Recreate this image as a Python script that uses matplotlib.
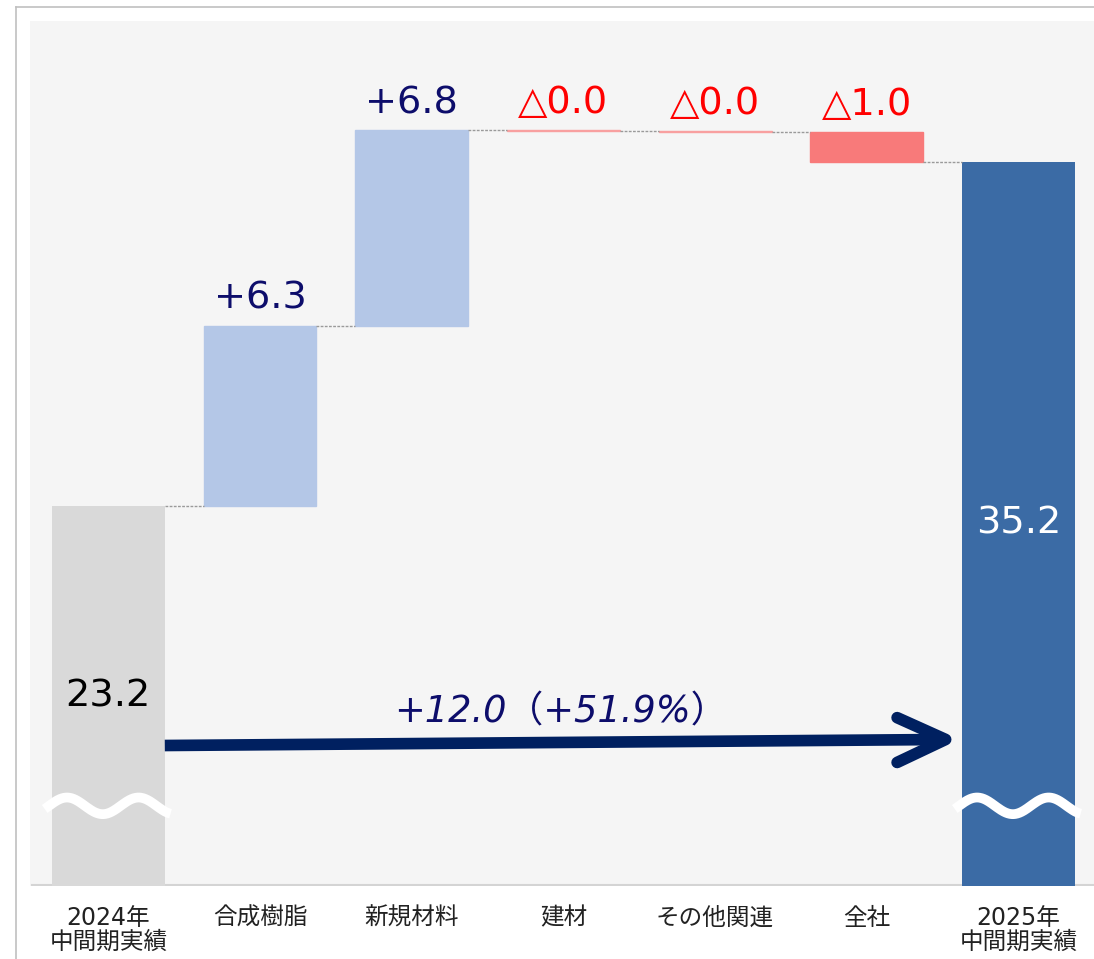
import numpy as np
import matplotlib
matplotlib.use("Agg")
import matplotlib.pyplot as plt
from matplotlib.lines import Line2D

plt.rcParams['font.family'] = ['DejaVu Sans', 'Noto Sans CJK JP']

# ---- data ----
categories = ["2024年\n中間期実績", "合成樹脂", "新規材料", "建材", "その他関連", "全社", "2025年\n中間期実績"]
start_value = 23.2
deltas = [6.3, 6.8, -0.02, -0.04, -1.04]
end_value = 35.2
delta_labels = ["+6.3", "+6.8", "△0.0", "△0.0", "△1.0"]
start_label = "23.2"
end_label = "35.2"
change_label = "+12.0（+51.9%）"
axis_floor = 10.0
axis_top = 40.1

# ---- colors ----
c_start = "#d9d9d9"
c_up = "#b4c7e7"
c_down = "#f87a7a"
c_end = "#3b6ba5"
c_navy = "#0d0d6b"
c_red = "#ff0000"
c_arrow = "#002060"

W, H = 1094, 959
fig = plt.figure(figsize=(W / 100, H / 100), dpi=100)
fig.patch.set_facecolor("white")

# outer frame lines
fx0, fy0 = 15.8 / W, 1 - 7.3 / H
fig.add_artist(Line2D([fx0, 1.0], [fy0, fy0], transform=fig.transFigure, color="#c0c0c0", lw=1.2))
fig.add_artist(Line2D([fx0, fx0], [0, fy0], transform=fig.transFigure, color="#c0c0c0", lw=1.2))

ax_left = 29.8 / W
ax_bottom = 1 - 885.7 / H
ax_top = 1 - 21 / H
ax = fig.add_axes([ax_left, ax_bottom, 1 - ax_left, ax_top - ax_bottom])
ax.set_facecolor("#f5f5f5")
for s in ax.spines.values():
    s.set_visible(False)
ax.set_xticks([])
ax.set_yticks([])
ax.set_xlim(-0.518, 6.498)
ax.set_ylim(axis_floor, axis_top)

bw = 0.744
n = len(categories)
x = np.arange(n)

# cumulative levels
levels = [start_value]
for d in deltas:
    levels.append(levels[-1] + d)

# start bar
ax.bar(0, start_value, width=bw, color=c_start, zorder=2)
# delta bars
for i, d in enumerate(deltas):
    lo = min(levels[i], levels[i + 1])
    hi = max(levels[i], levels[i + 1])
    col = c_up if d > 0 else c_down
    ax.bar(i + 1, hi - lo, bottom=lo, width=bw, color=col,
           edgecolor=(col if abs(d) > 0.1 else "#f8a0a0"), linewidth=1.0, zorder=2)
    ax.annotate(delta_labels[i], xy=(i + 1, hi), xytext=(0, 12), textcoords="offset points",
                ha="center", va="baseline", fontsize=27.5,
                color=(c_navy if d > 0 else c_red), zorder=5)
# end bar
ax.bar(n - 1, end_value, width=bw, color=c_end, zorder=2)

# connectors
for i in range(n - 1):
    lv = levels[i] if i < len(levels) else end_value
    ax.plot([i + bw / 2, i + 1 - bw / 2], [lv, lv], color="#9a9a9a", lw=1.0,
            ls=(0, (2, 1)), zorder=3)

# baseline
ax.axhline(axis_floor + 0.02, xmin=0.002, color="#d4d4d4", lw=1.5, zorder=1.5)

# total labels at middle of visible portion
ax.text(0, (start_value + axis_floor) / 2, start_label, ha="center", va="center",
        fontsize=27.5, color="black", zorder=5)
ax.text(n - 1, (end_value + axis_floor) / 2, end_label, ha="center", va="center",
        fontsize=27.5, color="white", zorder=5)

# wavy break marks
for c in [0, n - 1]:
    xs = np.linspace(c - 0.42, c + 0.41, 300)
    ys = 12.78 + 0.29 * np.sin(2 * np.pi * (xs - (c - 0.273)) / 0.472 + np.pi / 2)
    ax.plot(xs, ys, color="white", lw=7.0, solid_capstyle="butt", zorder=6)

# change arrow
x0, y0 = bw / 2, 14.88
x1, y1 = 5.52, 15.09
ax.plot([x0, x1 - 0.07], [y0, y1 - 0.003], color=c_arrow, lw=8.4, solid_capstyle="butt", zorder=6)
ax.plot([x1 - 0.32, x1, x1 - 0.32], [15.85, y1, 14.29], color=c_arrow, lw=8.4,
        solid_capstyle="round", solid_joinstyle="round", zorder=6)
ax.text(1.887, 15.67, change_label, ha="left", va="baseline", fontsize=26.5,
        style="italic", color=c_navy, zorder=6)

# category labels
for i, lab in enumerate(categories):
    ax.text(i, -0.023, lab, transform=ax.get_xaxis_transform(), ha="center", va="top",
            fontsize=17, color="#222222", linespacing=1.0, clip_on=False)

fig.savefig("out.png", dpi=100, facecolor="white")
